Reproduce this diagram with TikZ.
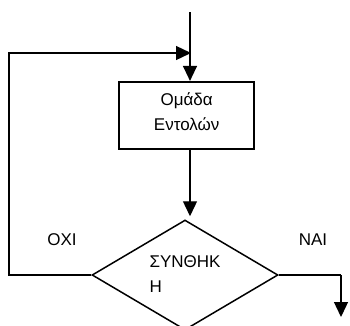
\documentclass[tikz,border=0pt]{standalone}
\usepackage{fontspec}
\setmainfont{Liberation Sans}
\usetikzlibrary{shapes.geometric,arrows.meta}
\begin{document}
\begin{tikzpicture}[x=1pt,y=-1pt,
  every node/.style={font=\fontsize{17}{25}\selectfont},
  conn/.style={line width=1.3pt},
  arr/.style={conn,-{Triangle[length=15pt,width=14pt]}},
  procbox/.style={draw,line width=1.8pt,rectangle,minimum width=135pt,minimum height=67pt,inner sep=0pt,align=center},
  decision/.style={draw,line width=1.5pt,diamond,aspect=1.69,minimum width=186pt,minimum height=110pt,inner sep=0pt,align=left},
  lbl/.style={inner sep=0pt}]
\useasboundingbox (0,0) rectangle (350,325);
\clip (0,0) rectangle (350,325);
\node[procbox] (box) at (186.7,115.3) {Ομάδα\\Εντολών\rule[-8pt]{0pt}{8pt}};
\node[decision] (cond) at (185,275) {ΣΥΝΘΗΚ\\Η\rule[-2pt]{0pt}{2pt}};
\node[lbl] (no) at (62,240) {ΟΧΙ};
\node[lbl] (yes) at (313,240) {ΝΑΙ};
\coordinate (top) at (190,12);
\coordinate (join) at (191,53);
\coordinate (lc) at (9,53);
\coordinate (rc) at (341,275);
\coordinate (rcb) at (341,317);
\draw[arr] (top) -- (top |- box.north);
\draw[arr] (cond.west) -| (lc) -- (join);
\draw[arr] (box.south -| top) -- ([yshift=3pt]cond.north -| top);
\draw[conn] (cond.east) -- (cond.east -| rc);
\draw[arr] (rc) -- (rcb);
\end{tikzpicture}
\end{document}
